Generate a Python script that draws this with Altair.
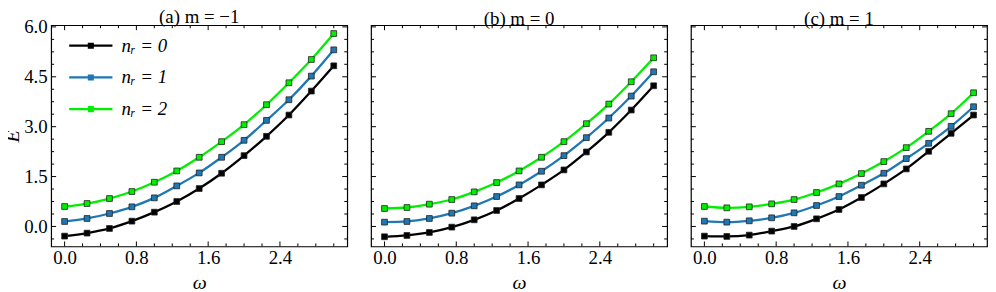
import altair as alt
import pandas as pd

# ---- data ----
omega = [0.0, 0.25, 0.5, 0.75, 1.0, 1.25, 1.5, 1.75, 2.0, 2.25, 2.5, 2.75, 3.0]
series_labels = ["nᵣ = 0", "nᵣ = 1", "nᵣ = 2"]
series_colors = ["#000000", "#1f77b4", "#00ee00"]
panel_titles = ["(a) m = −1", "(b) m = 0", "(c) m = 1"]

a_nr0 = [-0.29, -0.20, -0.06, 0.16, 0.43, 0.75, 1.14, 1.60, 2.13, 2.71, 3.35, 4.07, 4.83]
a_nr1 = [0.15, 0.24, 0.39, 0.59, 0.86, 1.22, 1.61, 2.08, 2.59, 3.19, 3.81, 4.52, 5.31]
a_nr2 = [0.60, 0.69, 0.84, 1.05, 1.33, 1.67, 2.08, 2.55, 3.06, 3.66, 4.32, 5.02, 5.80]

b_nr0 = [-0.31, -0.27, -0.18, -0.02, 0.20, 0.48, 0.84, 1.25, 1.70, 2.24, 2.83, 3.50, 4.23]
b_nr1 = [0.13, 0.15, 0.24, 0.40, 0.62, 0.90, 1.25, 1.66, 2.13, 2.67, 3.26, 3.92, 4.65]
b_nr2 = [0.54, 0.57, 0.67, 0.81, 1.04, 1.32, 1.67, 2.08, 2.55, 3.09, 3.68, 4.35, 5.07]

c_nr0 = [-0.29, -0.30, -0.26, -0.14, 0.00, 0.23, 0.51, 0.87, 1.28, 1.73, 2.26, 2.80, 3.35]
c_nr1 = [0.16, 0.13, 0.17, 0.26, 0.41, 0.63, 0.90, 1.24, 1.60, 2.04, 2.50, 3.01, 3.60]
c_nr2 = [0.60, 0.56, 0.59, 0.68, 0.81, 1.02, 1.28, 1.59, 1.95, 2.37, 2.86, 3.39, 4.02]

x_major = [0.0, 0.8, 1.6, 2.4]
x_minor = [0.2, 0.4, 0.6, 1.0, 1.2, 1.4, 1.8, 2.0, 2.2, 2.6, 2.8, 3.0]
y_major = [0.0, 1.5, 3.0, 4.5, 6.0]
y_minor = [-0.375, 0.375, 0.75, 1.125, 1.875, 2.25, 2.625, 3.375, 3.75, 4.125,
           4.875, 5.25, 5.625]

X_DOMAIN = [-0.15, 3.15]
Y_DOMAIN = [-0.6, 6.05]
FONT = "Liberation Serif"
FS = 19
W, H = 298.5, 223
GAP = 23.5
MAJOR, MINOR = 5, 3
# fixed canvas (plot area of panel (a) starts at PAD_L, PAD_T)
PAD_L, PAD_T = 43.5, 15.3
SVG_W, SVG_H = 988, 284


def make_df(series):
    rows = []
    for lab, vals in zip(series_labels, series):
        for o, e in zip(omega, vals):
            rows.append({"omega": o, "E": e, "series": lab})
    return pd.DataFrame(rows)


def panel(title, series, first):
    df = make_df(series)
    base = alt.Chart(df)
    xs = alt.Scale(domain=X_DOMAIN, nice=False, zero=False)
    ys = alt.Scale(domain=Y_DOMAIN, nice=False, zero=False)
    cs = alt.Scale(domain=series_labels, range=series_colors)

    xax = alt.Axis(orient="bottom", values=x_major, format=".1f", ticks=False,
                   tickSize=0, domain=False, grid=False, labelPadding=2,
                   labelFont=FONT, labelFontSize=FS, labelColor="black",
                   title="ω", titleFont=FONT, titleFontSize=FS + 1,
                   titleFontStyle="italic", titleFontWeight="normal",
                   titleColor="black", titlePadding=5)
    if first:
        yax = alt.Axis(orient="left", values=y_major, format=".1f", ticks=False,
                       tickSize=0, domain=False, grid=False, labelPadding=4,
                       labelFont=FONT, labelFontSize=FS, labelColor="black",
                       title="E", titleFont=FONT, titleFontSize=FS + 1,
                       titleFontStyle="italic", titleFontWeight="normal",
                       titleColor="black", titlePadding=1)
        legend = alt.Legend(
            title=None, orient="none", legendX=18, legendY=-1.4,
            symbolType="M-1,-0.055H-0.14V-0.14H0.14V-0.055H1V0.055H0.14V0.14H-0.14V0.055H-1Z",
            symbolSize=1900, symbolStrokeWidth=0, rowPadding=-7.6,
            labelFont=FONT, labelFontSize=FS, labelFontStyle="italic",
            labelColor="black", labelOffset=9, symbolOpacity=1)
        title_offset = -9.5
    else:
        yax = None
        legend = None
        title_offset = -4.5

    line = base.mark_line(strokeWidth=2.3, interpolate="monotone").encode(
        x=alt.X("omega:Q", scale=xs, axis=xax),
        y=alt.Y("E:Q", scale=ys, axis=yax),
        color=alt.Color("series:N", scale=cs, legend=legend),
    )
    pts = base.mark_point(shape="square", filled=True, size=34, opacity=1,
                          stroke="#222222", strokeWidth=0.8).encode(
        x=alt.X("omega:Q", scale=xs, axis=xax),
        y=alt.Y("E:Q", scale=ys, axis=yax),
        color=alt.Color("series:N", scale=cs, legend=legend),
    )

    def xticks(vals, length, side):
        d = pd.DataFrame({"omega": vals})
        if side == "bottom":
            y0, y1 = alt.value(H), alt.value(H - length)
        else:
            y0, y1 = alt.value(0), alt.value(length)
        return alt.Chart(d).mark_rule(color="black", strokeWidth=1).encode(
            x=alt.X("omega:Q", scale=xs, axis=xax), y=y0, y2=y1)

    def yticks(vals, length, side):
        d = pd.DataFrame({"E": vals})
        if side == "left":
            x0, x1 = alt.value(0), alt.value(length)
        else:
            x0, x1 = alt.value(W), alt.value(W - length)
        return alt.Chart(d).mark_rule(color="black", strokeWidth=1).encode(
            y=alt.Y("E:Q", scale=ys, axis=yax), x=x0, x2=x1)

    ticks = [
        xticks(x_major, MAJOR, "bottom"), xticks(x_minor, MINOR, "bottom"),
        xticks(x_major, MAJOR, "top"), xticks(x_minor, MINOR, "top"),
        yticks(y_major, MAJOR, "left"), yticks(y_minor, MINOR, "left"),
        yticks(y_major, MAJOR, "right"), yticks(y_minor, MINOR, "right"),
    ]

    return alt.layer(line, pts, *ticks).properties(
        width=W, height=H,
        title=alt.TitleParams(text=title, font=FONT, fontSize=19,
                              fontWeight="normal", color="black",
                              offset=title_offset),
    )


chart = alt.hconcat(
    panel(panel_titles[0], [a_nr0, a_nr1, a_nr2], True),
    panel(panel_titles[1], [b_nr0, b_nr1, b_nr2], False),
    panel(panel_titles[2], [c_nr0, c_nr1, c_nr2], False),
    spacing=GAP, bounds="flush",
).resolve_scale(color="independent").properties(
    autosize=alt.AutoSizeParams(type="none"),
    padding={"top": PAD_T, "left": PAD_L, "right": SVG_W - PAD_L,
             "bottom": SVG_H - PAD_T},
    background="white",
).configure_view(stroke="black", strokeWidth=1.2).configure_axis(grid=False)

chart.save("out.html", embed_options={"renderer": "svg", "actions": False})
